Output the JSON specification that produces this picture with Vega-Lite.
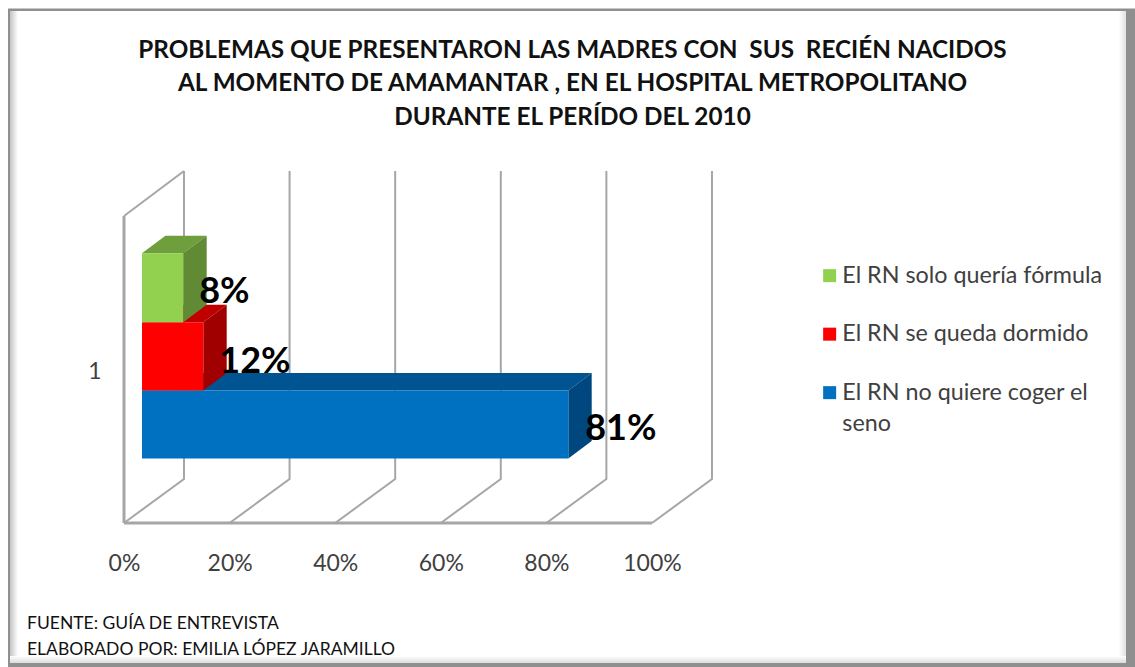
{
"$schema":"https://vega.github.io/schema/vega-lite/v6.json",
"width":1135,"height":667,"padding":0,"autosize":{"type":"none"},
"background":"white",
"view":{"stroke":null},
"title":{"text":["PROBLEMAS QUE PRESENTARON LAS MADRES CON \u00a0SUS \u00a0RECIÉN NACIDOS","AL MOMENTO DE AMAMANTAR , EN EL HOSPITAL METROPOLITANO","DURANTE EL PERÍDO DEL 2010"],"font":"Lato","fontSize":24.3,"fontWeight":"bold","color":"#111111","anchor":"middle","frame":"group","baseline":"top","lineHeight":33.5,"dx":5,"dy":130,"offset":0},
"datasets":{
"frame":[{"x":-21.97,"x2":191.48,"y":514.5,"y2":-144}],
"inner":[{"x":-21.59,"x2":189.77,"y":512,"y2":-140}],
"leftBevel":[{"x":-21.59,"x2":-20.08,"y":512,"y2":-140}],
"rightBevel":[{"x":188.4,"x2":189.77,"y":512,"y2":-140}],
"bottomBevel":[{"x":-21.59,"x2":189.77,"y":-133,"y2":-140}],
"wallRule":[{"x":0,"y":0,"y2":307}],
"floorRule":[{"x":0,"x2":100,"y":0}],
"grid":[
{"id":"walld","seq":1,"x":0,"y":307},{"id":"walld","seq":2,"x":11.36,"y":352},
{"id":"g0","seq":1,"x":0,"y":0},{"id":"g0","seq":2,"x":11.36,"y":44},{"id":"g0","seq":3,"x":11.36,"y":352},
{"id":"g20","seq":1,"x":20,"y":0},{"id":"g20","seq":2,"x":31.36,"y":44},{"id":"g20","seq":3,"x":31.36,"y":352},
{"id":"g40","seq":1,"x":40,"y":0},{"id":"g40","seq":2,"x":51.36,"y":44},{"id":"g40","seq":3,"x":51.36,"y":352},
{"id":"g60","seq":1,"x":60,"y":0},{"id":"g60","seq":2,"x":71.36,"y":44},{"id":"g60","seq":3,"x":71.36,"y":352},
{"id":"g80","seq":1,"x":80,"y":0},{"id":"g80","seq":2,"x":91.36,"y":44},{"id":"g80","seq":3,"x":91.36,"y":352},
{"id":"g100","seq":1,"x":100,"y":0},{"id":"g100","seq":2,"x":111.36,"y":44},{"id":"g100","seq":3,"x":111.36,"y":352}
],
"front":[
{"serie":"El RN no quiere coger el seno","x":3.41,"x2":84.15,"y":64.5,"y2":132.5},
{"serie":"El RN se queda dormido","x":3.41,"x2":15.02,"y":132.5,"y2":200.7},
{"serie":"El RN solo quería fórmula","x":3.41,"x2":11.23,"y":200.7,"y2":269.7}
],
"top":[
{"serie":"El RN no quiere coger el seno","x":3.41,"y":132.5,"y2":132.5},
{"serie":"El RN no quiere coger el seno","x":7.84,"y":132.5,"y2":150.1},
{"serie":"El RN no quiere coger el seno","x":84.15,"y":132.5,"y2":150.1},
{"serie":"El RN no quiere coger el seno","x":88.58,"y":150.1,"y2":150.1},
{"serie":"El RN se queda dormido","x":3.41,"y":200.7,"y2":200.7},
{"serie":"El RN se queda dormido","x":7.84,"y":200.7,"y2":218.3},
{"serie":"El RN se queda dormido","x":15.02,"y":200.7,"y2":218.3},
{"serie":"El RN se queda dormido","x":19.45,"y":218.3,"y2":218.3},
{"serie":"El RN solo quería fórmula","x":3.41,"y":269.7,"y2":269.7},
{"serie":"El RN solo quería fórmula","x":7.84,"y":269.7,"y2":287.3},
{"serie":"El RN solo quería fórmula","x":11.23,"y":269.7,"y2":287.3},
{"serie":"El RN solo quería fórmula","x":15.66,"y":287.3,"y2":287.3}
],
"side":[
{"serie":"El RN no quiere coger el seno","x":84.15,"y":64.5,"y2":132.5},
{"serie":"El RN no quiere coger el seno","x":88.58,"y":82.1,"y2":150.1},
{"serie":"El RN se queda dormido","x":15.02,"y":132.5,"y2":200.7},
{"serie":"El RN se queda dormido","x":19.45,"y":150.1,"y2":218.3},
{"serie":"El RN solo quería fórmula","x":11.23,"y":200.7,"y2":269.7},
{"serie":"El RN solo quería fórmula","x":15.66,"y":218.3,"y2":287.3}
],
"labels":[
{"label":"8%","x":19,"y":231},
{"label":"12%","x":24.8,"y":161},
{"label":"81%","x":94.1,"y":94}
],
"footer":[
{"text":"FUENTE: GUÍA DE ENTREVISTA","x":-18.37,"y":-101},
{"text":"ELABORADO POR: EMILIA LÓPEZ JARAMILLO","x":-18.37,"y":-127}
]
},
"encoding":{
 "x":{"field":"x","type":"quantitative","scale":{"domain":[-23.485,191.477],"nice":false,"zero":false},"axis":{"zindex":1,"values":[0,20,40,60,80,100],"labelExpr":"datum.value + '%'","domain":false,"ticks":false,"grid":false,"title":null,"labelFont":"Lato","labelFontSize":23,"labelColor":"#404040","labelPadding":-115,"labelOverlap":false,"labelFlush":false}},
 "y":{"field":"y","type":"quantitative","scale":{"domain":[-144,523],"nice":false,"zero":false},"axis":{"zindex":1,"values":[152],"labelExpr":"'1'","domain":false,"ticks":false,"grid":false,"title":null,"labelFont":"Lato","labelFontSize":23,"labelColor":"#404040","labelPadding":-101}}
},
"layer":[
{"data":{"name":"frame"},"mark":{"type":"rect","fill":"#8f8f8f"},"encoding":{"x2":{"field":"x2"},"y2":{"field":"y2"}}},
{"data":{"name":"inner"},"mark":{"type":"rect","fill":"white"},"encoding":{"x2":{"field":"x2"},"y2":{"field":"y2"}}},
{"data":{"name":"leftBevel"},"mark":{"type":"rect","fill":{"gradient":"linear","x1":0,"x2":1,"y1":0,"y2":0,"stops":[{"offset":0,"color":"#c4c4c4"},{"offset":1,"color":"#ffffff"}]}},"encoding":{"x2":{"field":"x2"},"y2":{"field":"y2"}}},
{"data":{"name":"rightBevel"},"mark":{"type":"rect","fill":{"gradient":"linear","x1":0,"x2":1,"y1":0,"y2":0,"stops":[{"offset":0,"color":"#ffffff"},{"offset":1,"color":"#e0e0e0"}]}},"encoding":{"x2":{"field":"x2"},"y2":{"field":"y2"}}},
{"data":{"name":"bottomBevel"},"mark":{"type":"rect","fill":{"gradient":"linear","x1":0,"x2":0,"y1":0,"y2":1,"stops":[{"offset":0,"color":"#ffffff"},{"offset":1,"color":"#dcdcdc"}]}},"encoding":{"x2":{"field":"x2"},"y2":{"field":"y2"}}},
{"data":{"name":"grid"},"mark":{"type":"line","stroke":"#a6a6a6","strokeWidth":2,"interpolate":"linear","strokeJoin":"miter","clip":false},
 "encoding":{"detail":{"field":"id"},"order":{"field":"seq"}}},
{"data":{"name":"wallRule"},"mark":{"type":"rule","stroke":"#a6a6a6","strokeWidth":3},"encoding":{"y2":{"field":"y2"}}},
{"data":{"name":"floorRule"},"mark":{"type":"rule","stroke":"#a6a6a6","strokeWidth":3},"encoding":{"x2":{"field":"x2"}}},
{"data":{"name":"top"},"mark":{"type":"area","orient":"vertical"},
 "encoding":{"y2":{"field":"y2"},
  "fill":{"field":"serie","type":"nominal","scale":{"domain":["El RN solo quería fórmula","El RN se queda dormido","El RN no quiere coger el seno"],"range":["#6f9e3c","#c00000","#005491"]},"legend":null}}},
{"data":{"name":"side"},"mark":{"type":"area","orient":"vertical"},
 "encoding":{"y2":{"field":"y2"},
  "color":{"field":"serie","type":"nominal","scale":{"domain":["El RN solo quería fórmula","El RN se queda dormido","El RN no quiere coger el seno"],"range":["#608a33","#a00000","#00477f"]},"legend":null}}},
{"data":{"name":"front"},"mark":{"type":"rect"},
 "encoding":{"x2":{"field":"x2"},"y2":{"field":"y2"},
  "color":{"field":"serie","type":"nominal","scale":{"domain":["El RN solo quería fórmula","El RN se queda dormido","El RN no quiere coger el seno"],"range":["#92d050","#ff0000","#0070c0"]},
   "legend":{"title":null,"orient":"none","legendX":818,"legendY":264,"symbolType":"square","symbolSize":169,"symbolStrokeWidth":0,"labelFont":"Lato","labelFontSize":23.3,"labelColor":"#404040","labelLimit":400,"labelOffset":1,"rowPadding":34.5,"labelBaseline":"top","labelExpr":"datum.label == 'El RN no quiere coger el seno' ? ['El RN no quiere coger el','seno'] : datum.label","encoding":{"labels":{"lineHeight":{"value":31},"dy":{"value":-11}}}}}}},
{"data":{"name":"labels"},"mark":{"type":"text","font":"Lato","fontSize":36,"fontWeight":"bold","color":"#000000","align":"center","baseline":"middle"},
 "encoding":{"text":{"field":"label"}}},
{"data":{"name":"footer"},"mark":{"type":"text","font":"Lato","fontSize":17.5,"color":"#111111","align":"left","baseline":"middle"},
 "encoding":{"text":{"field":"text"}}}
],
"resolve":{"scale":{"color":"independent","fill":"independent"}}
}
